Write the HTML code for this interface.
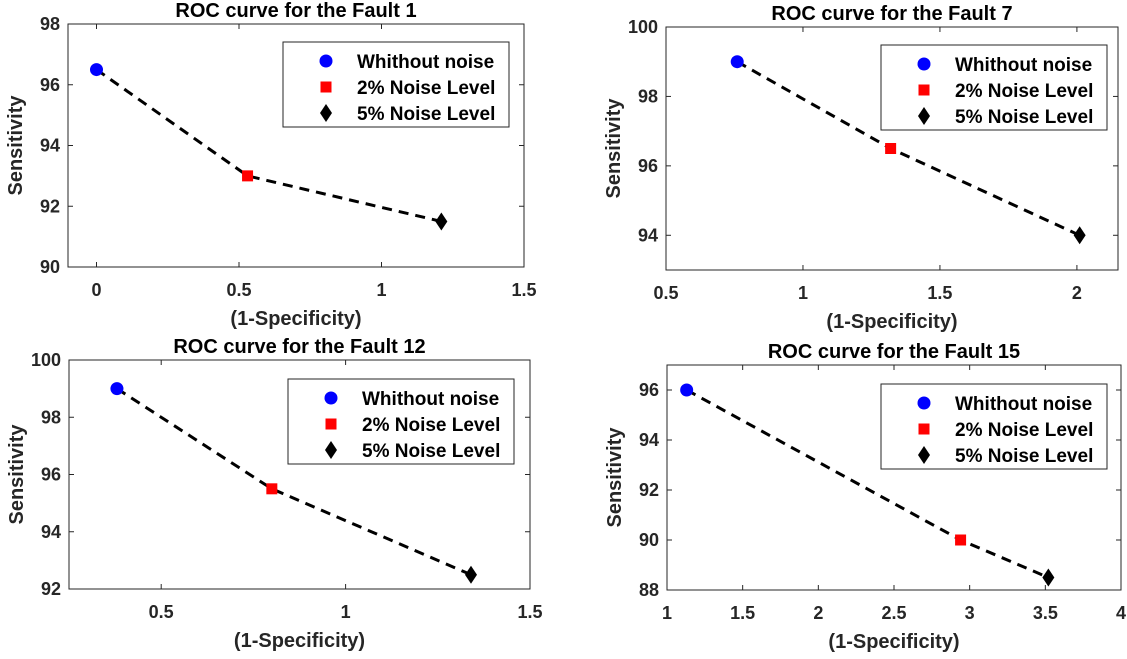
<!DOCTYPE html>
<html><head><meta charset="utf-8"><style>
body{margin:0;background:#fff}
svg text{font-family:"Liberation Sans",sans-serif;font-weight:bold;fill:#262626}
</style></head><body>
<svg id="s" width="1127" height="654"></svg>
<script>
const panelTitles=["ROC curve for the Fault 1","ROC curve for the Fault 7","ROC curve for the Fault 12","ROC curve for the Fault 15"];
const xVals=[[0,0.53,1.21],[0.76,1.32,2.01],[0.38,0.8,1.34],[1.13,2.94,3.52]];
const yVals=[[96.5,93,91.5],[99,96.5,94],[99,95.5,92.5],[96,90,88.5]];
const xTicks=[[0,0.5,1,1.5],[0.5,1,1.5,2],[0.5,1,1.5],[1,1.5,2,2.5,3,3.5,4]];
const yTicks=[[90,92,94,96,98],[94,96,98,100],[92,94,96,98,100],[88,90,92,94,96]];
const xLims=[[-0.1,1.5],[0.5,2.15],[0.25,1.5],[1,4]];
const yLims=[[90,98],[93,100],[92,100],[88,97]];
const legendLabels=["Whithout noise","2% Noise Level","5% Noise Level"];
const boxes=[[68,24,524,267],[666,27,1118,270],[69,360,530,589],[667,365,1121,590]];
const legends=[[283,42],[881,45],[288,379],[881,384]];
const NS="http://www.w3.org/2000/svg";
const svg=document.getElementById('s');
function mk(tag,attrs,parent){const e=document.createElementNS(NS,tag);for(const k in attrs)e.setAttribute(k,attrs[k]);(parent||svg).appendChild(e);return e;}
function marker(kind,x,y,g){
  if(kind===0)return mk('circle',{cx:x,cy:y,r:6.5,fill:'#0000ff'},g);
  if(kind===1)return mk('rect',{x:x-5.5,y:y-5.5,width:11,height:11,fill:'#ff0000'},g);
  return mk('polygon',{points:`${x},${y-9} ${x+6},${y} ${x},${y+9} ${x-6},${y}`,fill:'#000'},g);
}
const mnames=['marker-without-noise','marker-2pct-noise','marker-5pct-noise'];
for(let p=0;p<4;p++){
  const [L,T,R,B]=boxes[p];
  const g=mk('g',{});
  
  
  const sx=v=>L+(v-xLims[p][0])/(xLims[p][1]-xLims[p][0])*(R-L);
  const sy=v=>B-(v-yLims[p][0])/(yLims[p][1]-yLims[p][0])*(B-T);
  const box=mk('rect',{x:L,y:T,width:R-L,height:B-T,fill:'none',stroke:'#262626','stroke-width':1},g);
  
  
  xTicks[p].forEach(t=>{const x=sx(t);
    mk('line',{x1:x,x2:x,y1:B,y2:B-5,stroke:'#262626'},g);mk('line',{x1:x,x2:x,y1:T,y2:T+5,stroke:'#262626'},g);
    const tx=mk('text',{x:x,y:B+29,'text-anchor':'middle','font-size':18},g);tx.textContent=t;
    
    });
  yTicks[p].forEach(t=>{const y=sy(t);
    mk('line',{x1:L,x2:L+5,y1:y,y2:y,stroke:'#262626'},g);mk('line',{x1:R,x2:R-5,y1:y,y2:y,stroke:'#262626'},g);
    const tx=mk('text',{x:L-8,y:y+6,'text-anchor':'end','font-size':18},g);tx.textContent=t;
    
    });
  const tt=mk('text',{x:(L+R)/2,y:T-7,'text-anchor':'middle','font-size':20,style:'fill:#000'},g);tt.textContent=panelTitles[p];
  
  
  const xl=mk('text',{x:(L+R)/2,y:B+58,'text-anchor':'middle','font-size':20},g);xl.textContent='(1-Specificity)';
  
  
  const cy=(T+B)/2;const yl=mk('text',{x:0,y:0,'text-anchor':'middle','font-size':20,transform:`translate(${L-46},${cy}) rotate(-90)`},g);yl.textContent='Sensitivity';
  
  
  const pts=xVals[p].map((v,i)=>sx(v)+','+sy(yVals[p][i])).join(' ');
  const ln=mk('polyline',{points:pts,fill:'none',stroke:'#000','stroke-width':3,'stroke-dasharray':'10,7'},g);
  
  
  for(let i=0;i<3;i++){const m=marker(i,sx(xVals[p][i]),sy(yVals[p][i]),g);
    
    }
  const [lx,ly]=legends[p];
  const lg=mk('g',{},g);
  
  
  mk('rect',{x:lx,y:ly,width:226,height:85,fill:'#fff',stroke:'#262626'},lg);
  for(let i=0;i<3;i++){const yy=ly+19+i*26;
    const m=marker(i,lx+43,yy,lg);
    
    
    const t=mk('text',{x:lx+74,y:yy+7,'font-size':19,style:'fill:#000'},lg);t.textContent=legendLabels[i];
    
    }
}
</script>
</body></html>
